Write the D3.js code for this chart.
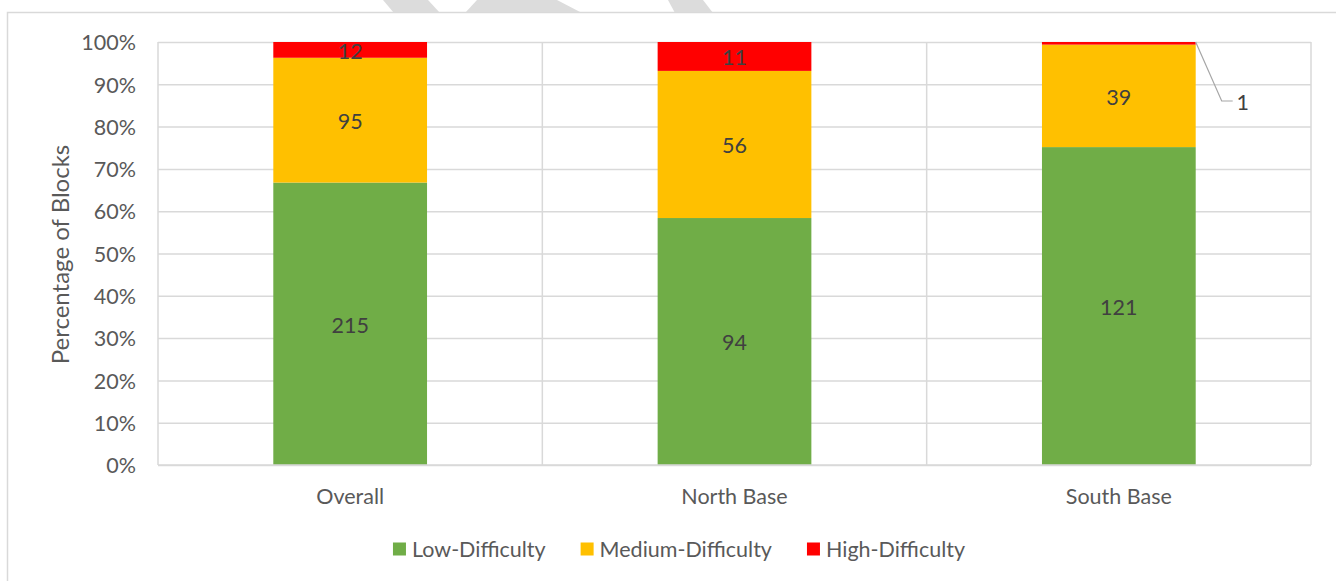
<!DOCTYPE html>
<html>
<head>
<meta charset="utf-8">
<script src="https://cdn.jsdelivr.net/npm/d3@7"></script>
<style>
  html, body { margin: 0; padding: 0; background: #fff; }
  svg { display: block; }
  text { font-family: Lato, "Open Sans", sans-serif; }
</style>
</head>
<body>
<svg id="chart" width="1336" height="581"></svg>
<script>
// Block counts per location, stacked by difficulty and shown as shares of 100%
const categories = ["Overall", "North Base", "South Base"];
const seriesNames = ["Low-Difficulty", "Medium-Difficulty", "High-Difficulty"];
const lowValues = [215, 94, 121];
const mediumValues = [95, 56, 39];
const highValues = [12, 11, 1];
const seriesColors = ["#70AD47", "#FFC000", "#FF0000"];
const yTicks = [0, 0.1, 0.2, 0.3, 0.4, 0.5, 0.6, 0.7, 0.8, 0.9, 1.0];
const yTitle = "Percentage of Blocks";

const svg = d3.select("#chart");
const plot = { left: 158, right: 1311, top: 42, bottom: 465 };
const gridColor = "#D9D9D9";
const textColor = "#595959";
const labelColor = "#404040";
const fontSize = "21.5px";

// faint watermark fragments peeking above the chart frame
const wm = svg.append("g").attr("fill", "#DCDCDC");
[
  [[383, 0], [428, 0], [440, 13], [394, 13]],
  [[477, 0], [557, 0], [582, 13], [465, 13]],
  [[668, 0], [703, 0], [713, 13], [675, 13]]
].forEach(p => wm.append("polygon").attr("points", p.map(d => d.join(",")).join(" ")));

// chart frame
svg.append("rect")
  .attr("x", 7.5).attr("y", 12.5)
  .attr("width", 1360).attr("height", 600)
  .attr("fill", "#fff").attr("stroke", gridColor).attr("stroke-width", 1.5);

// table of rows for the stack layout
const rows = categories.map((c, i) => {
  const total = lowValues[i] + mediumValues[i] + highValues[i];
  return {
    category: c,
    total,
    "Low-Difficulty": lowValues[i] / total,
    "Medium-Difficulty": mediumValues[i] / total,
    "High-Difficulty": highValues[i] / total,
    counts: [lowValues[i], mediumValues[i], highValues[i]]
  };
});

const x = d3.scaleBand()
  .domain(categories)
  .range([plot.left, plot.right])
  .paddingInner(0.6)
  .paddingOuter(0.3);

const y = d3.scaleLinear().domain([0, 1]).range([plot.bottom, plot.top]);

// horizontal gridlines + y axis labels
const yAxis = d3.axisLeft(y)
  .tickValues(yTicks)
  .tickFormat(d3.format(".0%"))
  .tickSize(-(plot.right - plot.left))
  .tickPadding(22);
const gy = svg.append("g")
  .attr("transform", `translate(${plot.left},0)`)
  .call(yAxis);
gy.select(".domain").remove();
gy.selectAll(".tick line").attr("stroke", gridColor).attr("stroke-width", 1.5);
gy.selectAll(".tick text")
  .attr("fill", textColor)
  .attr("dy", "0.36em")
  .style("font-size", fontSize);

// vertical gridlines at category boundaries (and the left edge)
const step = x.step();
const vLines = d3.range(categories.length + 1).map(i => plot.left + i * step);
svg.append("g").selectAll("line")
  .data(vLines)
  .join("line")
  .attr("x1", d => d).attr("x2", d => d)
  .attr("y1", plot.top).attr("y2", plot.bottom)
  .attr("stroke", gridColor).attr("stroke-width", 1.5);

// stacked bars
const stack = d3.stack().keys(seriesNames);
const layers = stack(rows);

const gBars = svg.append("g");
layers.forEach((layer, li) => {
  gBars.append("g")
    .attr("fill", seriesColors[li])
    .selectAll("rect")
    .data(layer)
    .join("rect")
    .attr("x", d => x(d.data.category))
    .attr("width", x.bandwidth())
    .attr("y", d => y(d[1]))
    .attr("height", d => y(d[0]) - y(d[1]));
});

// bottom axis line redrawn above bars
svg.append("line")
  .attr("x1", plot.left).attr("x2", plot.right)
  .attr("y1", plot.bottom).attr("y2", plot.bottom)
  .attr("stroke", gridColor).attr("stroke-width", 1.5);

// value labels: inside each segment, or with a leader line when the segment is too thin
const gLabels = svg.append("g")
  .attr("fill", labelColor)
  .style("font-size", fontSize)
  .attr("text-anchor", "middle");
layers.forEach((layer, li) => {
  layer.forEach(d => {
    const count = d.data.counts[li];
    const h = y(d[0]) - y(d[1]);
    const cx = x(d.data.category) + x.bandwidth() / 2;
    if (h >= 10) {
      gLabels.append("text")
        .attr("x", cx)
        .attr("y", (y(d[0]) + y(d[1])) / 2 + 1)
        .attr("dy", "0.36em")
        .text(count);
    } else {
      const x0 = x(d.data.category) + x.bandwidth();
      const y0 = y(d[1]);
      const elbowX = x0 + 26, elbowY = y0 + 59;
      svg.append("polyline")
        .attr("points", `${x0},${y0} ${elbowX},${elbowY} ${elbowX + 11},${elbowY}`)
        .attr("fill", "none")
        .attr("stroke", "#A6A6A6")
        .attr("stroke-width", 1.2);
      gLabels.append("text")
        .attr("x", elbowX + 21)
        .attr("y", elbowY + 1)
        .attr("dy", "0.36em")
        .text(count);
    }
  });
});

// category labels
svg.append("g")
  .selectAll("text")
  .data(categories)
  .join("text")
  .attr("x", d => x(d) + x.bandwidth() / 2)
  .attr("y", 496)
  .attr("dy", "0.36em")
  .attr("text-anchor", "middle")
  .attr("fill", textColor)
  .style("font-size", fontSize)
  .text(d => d);

// y axis title
svg.append("text")
  .attr("transform", `translate(60,${(plot.top + plot.bottom) / 2 + 1}) rotate(-90)`)
  .attr("dy", "0.36em")
  .attr("text-anchor", "middle")
  .attr("fill", textColor)
  .style("font-size", "24px")
  .text(yTitle);

// legend, centred under the chart
const legend = svg.append("g").style("font-size", fontSize);
const sw = 13, gapText = 6, gapItem = 35;
const items = seriesNames.map((name, i) => {
  const g = legend.append("g");
  g.append("rect").attr("width", sw).attr("height", sw).attr("y", -sw / 2).attr("fill", seriesColors[i]);
  const t = g.append("text").attr("x", sw + gapText).attr("dy", "0.36em").attr("fill", textColor).text(name);
  return { g, w: sw + gapText + t.node().getComputedTextLength() };
});
const totalW = d3.sum(items, d => d.w) + gapItem * (items.length - 1);
let lx = 679 - totalW / 2;
items.forEach(it => {
  it.g.attr("transform", `translate(${lx},549)`);
  lx += it.w + gapItem;
});
</script>
</body>
</html>
